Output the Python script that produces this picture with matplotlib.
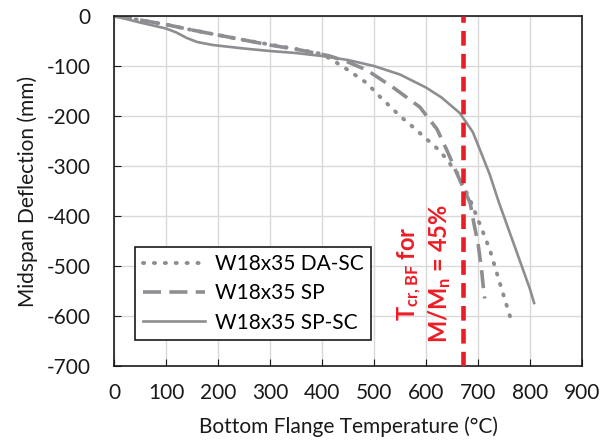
import matplotlib
matplotlib.use('Agg')
import matplotlib.pyplot as plt

plt.rcParams['font.family'] = ['Lato', 'DejaVu Sans']
plt.rcParams['mathtext.fontset'] = 'custom'
plt.rcParams['mathtext.rm'] = 'Lato:bold'
plt.rcParams['mathtext.it'] = 'Lato:bold'
plt.rcParams['mathtext.bf'] = 'Lato:bold'
plt.rcParams['axes.unicode_minus'] = False

# W18x35 DA-SC (dotted)
da_sc_t = [0, 50, 100, 150, 200, 250, 300, 350, 400, 420, 450, 486, 512, 550, 575, 600, 627, 660, 685, 705, 723, 742, 765]
da_sc_d = [0, -8, -17, -28, -38, -48, -57, -66, -76, -88, -108, -134, -162, -200, -222, -245, -270, -314, -368, -420, -468, -534, -612]

# W18x35 SP (dashed)
sp_t = [0, 50, 100, 150, 200, 250, 300, 358, 415, 450, 486, 537, 588, 621, 640, 665, 685, 692, 700, 707, 710, 713]
sp_d = [0, -8, -17, -28, -38, -48, -58, -68, -80, -92, -108, -143, -182, -226, -268, -328, -374, -414, -454, -508, -540, -565]

# W18x35 SP-SC (solid)
sp_sc_t = [0, 50, 100, 120, 140, 160, 190, 250, 300, 350, 400, 450, 500, 550, 600, 630, 665, 690, 704, 723, 740, 760, 780, 800, 808]
sp_sc_d = [0, -13, -25, -33, -44, -52, -58, -65, -70, -74, -80, -88, -100, -117, -143, -163, -194, -232, -268, -318, -372, -430, -488, -546, -574]

t_cr = 672
gray = '#8e8e92'
red = '#ec1c24'
ink = '#1a1a1a'

fig = plt.figure(figsize=(6.1, 4.45), dpi=100)
ax = fig.add_axes([0.187, 0.1775, 0.767, 0.7865])

ax.plot(da_sc_t, da_sc_d, color=gray, lw=2.8, ls=(0, (0.3, 2.5)), dash_capstyle='round',
        label='W18x35 DA-SC')
ax.plot(sp_t, sp_d, color=gray, lw=2.6, ls=(0, (5, 2.3)), label='W18x35 SP')
ax.plot(sp_sc_t, sp_sc_d, color=gray, lw=1.9, label='W18x35 SP-SC')
ax.axvline(t_cr, color=red, lw=3.3, ls=(0, (3.2, 1.8)), zorder=3)

ax.text(598, -515, 'T$_{\\mathregular{cr,BF}}$ for\nM/M$_{\\mathregular{n}}$ = 45%',
        rotation=90, color=red, fontsize=17, fontweight='bold',
        ha='center', va='center', multialignment='center', linespacing=1.1)

ax.set_xlim(0, 900)
ax.set_ylim(-700, 0)
ax.set_xticks(range(0, 901, 100))
ax.set_yticks(range(-700, 1, 100))
ax.grid(True, color='#d9d9d9', lw=1)
ax.set_axisbelow(True)
ax.tick_params(direction='in', length=5, labelsize=15, colors=ink)
ax.tick_params(axis='x', pad=12)
ax.tick_params(axis='y', pad=17)
for s in ax.spines.values():
    s.set_color(ink)
    s.set_linewidth(1.2)

ax.set_xlabel('Bottom Flange Temperature (°C)', fontsize=15, color=ink, labelpad=10)
ax.set_ylabel('Midspan Deflection (mm)', fontsize=15, color=ink, labelpad=6)

leg = ax.legend(loc='lower left', bbox_to_anchor=(0.023, 0.045), fontsize=15,
                fancybox=False, edgecolor=ink, framealpha=1,
                handlelength=3.0, handletextpad=0.5, borderpad=0.35, labelspacing=0.45)
leg.get_frame().set_linewidth(1.2)

fig.savefig('out.png', dpi=100)
